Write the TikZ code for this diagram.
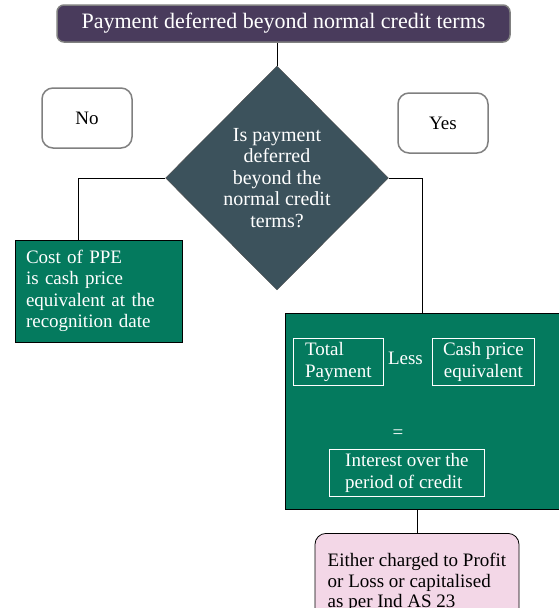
\documentclass[tikz,border=0pt]{standalone}
\usepackage{fontspec}
\setmainfont{Liberation Serif}
\usetikzlibrary{shapes.geometric, positioning, calc}
\definecolor{titlepurple}{HTML}{493B5C}
\definecolor{slategrey}{HTML}{3C525C}
\definecolor{deepgreen}{HTML}{047A5E}
\definecolor{softpink}{HTML}{F3D7E7}
\tikzset{
    block_purple/.style={rectangle, draw=gray, line width=1.5pt, rounded corners=7pt, fill=titlepurple, text=white, minimum width=453pt, minimum height=37pt, font=\fontsize{22}{26}\selectfont},
    block_white/.style={rectangle, draw=gray, line width=1.5pt, rounded corners=11pt, fill=white, minimum width=90pt, minimum height=60pt},
    block_decision/.style={diamond, draw=black!70, fill=slategrey, text=white, minimum width=223pt, minimum height=224pt, inner sep=0pt, align=center, font=\fontsize{20}{21.5}\selectfont},
    block_green/.style={rectangle, draw=black, line width=0.8pt, fill=deepgreen, text=white},
    block_inner/.style={rectangle, draw=white, line width=0.8pt, text=white, anchor=north west, minimum height=47pt},
    block_pink/.style={rectangle, draw=black, line width=0.8pt, rounded corners=11pt, fill=softpink, align=left, inner xsep=11pt, inner ysep=20pt, font=\fontsize{19}{20.5}\selectfont},
    link/.style={draw, line width=0.8pt}
}
\begin{document}
\begin{tikzpicture}[x=1pt, y=-1pt, font=\fontsize{19}{21.5}\selectfont]
    \useasboundingbox (0,0) rectangle (558,608);
    \node (title) [block_purple] at (283.5,23.5) {Payment deferred beyond normal credit terms};
    \node (no) [block_white] at (87,118) {No};
    \node (yes) [block_white] at (443,123) {Yes};
    \node (ask) [block_decision] at (277,178) {Is payment\\deferred\\beyond the\\normal credit\\terms?};
    \node (cost) [block_green, minimum width=167pt, minimum height=102pt, text width=145pt, align=left] at (98.5,291) {Cost of PPE\\is cash price\\equivalent at the\\recognition date};

    \node (result) [block_green, minimum width=274pt, minimum height=196pt] at (422,411) {};
    \node (total) [block_inner, minimum width=90pt, align=left] at (293,338) {Total\\Payment};
    \node (less) [right=4pt of total, yshift=4pt, inner sep=0pt, text=white] {Less};
    \node (cash) [block_inner, minimum width=102pt, align=center] at (432,338) {Cash price\\equivalent};
    \node (equals) [text=white, inner sep=0pt] at (398,434) {=};
    \node (interest) [block_inner, minimum width=155pt, align=left] at (329,449) {Interest over the\\period of credit};
    \node (charge) [block_pink, minimum width=204pt, anchor=north] at (417,533) {Either charged to Profit\\or Loss or capitalised\\as per Ind AS 23};

    \draw [link] (ask.north) -- (ask.north |- title.south);
    \draw [link] (ask.west) -| ([xshift=-20pt]cost.north);
    \draw [link] (ask.east) -| (result.north);
    \draw [link] (result.south -| charge.north) -- (charge.north);
\end{tikzpicture}
\end{document}
